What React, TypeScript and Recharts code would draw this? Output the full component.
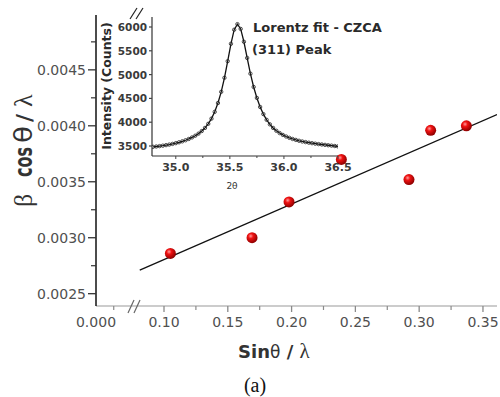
import React from "react";
import { ScatterChart, Scatter, XAxis, YAxis } from "recharts";

// Williamson-Hall points: sin(theta)/lambda vs beta cos(theta)/lambda
const sinThetaOverLambda = [0.105, 0.169, 0.198, 0.239, 0.292, 0.309, 0.337];
const betaCosOverLambda = [0.00286, 0.003, 0.00332, 0.0037, 0.00352, 0.00396, 0.004];

// linear fit end points
const fitX = [0.081, 0.361];
const fitY = [0.00271, 0.0041];

const xMajorTicks = [0.0467, 0.1, 0.15, 0.2, 0.25, 0.3, 0.35];
const xTickLabels = ["0.000", "0.10", "0.15", "0.20", "0.25", "0.30", "0.35"];
const xMinorTicks = [0.0606, 0.125, 0.175, 0.225, 0.275, 0.325];
const yMajorTicks = [0.0025, 0.003, 0.0035, 0.004, 0.0045];
const yTickLabels = ["0.0025", "0.0030", "0.0035", "0.0040", "0.0045"];
const yMinorTicks = [0.00275, 0.00325, 0.00375, 0.00425, 0.00475];

// (311) peak profile
const twoTheta = [
  34.79, 34.82, 34.85, 34.88, 34.91, 34.94, 34.97, 35.0, 35.03, 35.06,
  35.09, 35.12, 35.15, 35.18, 35.21, 35.24, 35.27, 35.3, 35.33, 35.36,
  35.39, 35.42, 35.45, 35.48, 35.51, 35.54, 35.57, 35.6, 35.63, 35.66,
  35.69, 35.72, 35.75, 35.78, 35.81, 35.84, 35.87, 35.9, 35.93, 35.96,
  35.99, 36.02, 36.05, 36.08, 36.11, 36.14, 36.17, 36.2, 36.23, 36.26,
  36.29, 36.32, 36.35, 36.38, 36.41, 36.44, 36.47, 36.5,
];
const counts = [
  3483, 3490, 3498, 3507, 3518, 3530, 3544, 3560, 3578, 3598,
  3621, 3648, 3680, 3716, 3760, 3814, 3880, 3966, 4075, 4218,
  4403, 4638, 4933, 5282, 5647, 5943, 6060, 5960, 5690, 5350,
  5020, 4740, 4510, 4320, 4170, 4050, 3955, 3880, 3820, 3772,
  3733, 3700, 3672, 3648, 3628, 3610, 3595, 3582, 3570, 3559,
  3549, 3540, 3532, 3524, 3516, 3508, 3500, 3492,
];
const insetXTicks = [35.0, 35.5, 36.0, 36.5];
const insetXLabels = ["35.0", "35.5", "36.0", "36.5"];
const insetXMinor = [35.25, 35.75, 36.25];
const insetYTicks = [3500, 4000, 4500, 5000, 5500, 6000];

const points = sinThetaOverLambda.map((x, i) => ({ x, y: betaCosOverLambda[i] }));
const fitLine = fitX.map((x, i) => ({ x, y: fitY[i] }));
const profile = twoTheta.map((x, i) => ({ x, y: counts[i] }));

const SANS = "'DejaVu Sans', Verdana, sans-serif";
const SERIF = "'Liberation Serif', 'Times New Roman', serif";

const XTick = (props: any) => {
  const { x, y, payload } = props;
  const i = xMajorTicks.indexOf(payload.value);
  if (i < 0) {
    return <line x1={x} y1={y} x2={x} y2={y + 4} stroke="#8a8a8a" strokeWidth={1.2} />;
  }
  return (
    <g>
      {i > 0 && <line x1={x} y1={y} x2={x} y2={y + 6} stroke="#8a8a8a" strokeWidth={1.3} />}
      <text x={x} y={y + 21} textAnchor="middle" fontSize={14} fill="#505050" fontFamily={SANS}>
        {xTickLabels[i]}
      </text>
    </g>
  );
};

const YTick = (props: any) => {
  const { x, y, payload } = props;
  const i = yMajorTicks.indexOf(payload.value);
  if (i < 0) {
    return <line x1={x - 5} y1={y} x2={x} y2={y} stroke="#333" strokeWidth={1.2} />;
  }
  return (
    <g>
      <line x1={x - 8} y1={y} x2={x} y2={y} stroke="#333" strokeWidth={1.3} />
      <text x={x - 10} y={y + 5} textAnchor="end" fontSize={14} fill="#505050" fontFamily={SANS}>
        {yTickLabels[i]}
      </text>
    </g>
  );
};

const InsetXTick = (props: any) => {
  const { x, y, payload } = props;
  const i = insetXTicks.indexOf(payload.value);
  if (i < 0) {
    return <line x1={x} y1={y} x2={x} y2={y + 2} stroke="#444" />;
  }
  return (
    <g>
      <line x1={x} y1={y} x2={x} y2={y + 3} stroke="#444" />
      <text x={x} y={y + 15} textAnchor="middle" fontSize={11} fontWeight="bold" fill="#3a3a3a" fontFamily={SANS}>
        {insetXLabels[i]}
      </text>
    </g>
  );
};

const InsetYTick = (props: any) => {
  const { x, y, payload } = props;
  return (
    <g>
      <line x1={x - 3} y1={y} x2={x} y2={y} stroke="#444" strokeWidth={1.2} />
      <text x={x - 5} y={y + 4} textAnchor="end" fontSize={10.5} fontWeight="bold" fill="#3a3a3a" fontFamily={SANS}>
        {payload.value}
      </text>
    </g>
  );
};

const Sphere = (props: any) => {
  const { cx, cy } = props;
  return <circle cx={cx} cy={cy} r={5.5} fill="url(#redSphere)" />;
};

const OpenDot = (props: any) => {
  const { cx, cy } = props;
  return <circle cx={cx} cy={cy} r={1.7} fill="none" stroke="#222" strokeWidth={0.8} />;
};

const NoDot = () => <g />;

const XTitle = () => (
  <g>
    <line x1={128} y1={313} x2={134} y2={300} stroke="#666" strokeWidth={1.2} />
    <line x1={134} y1={313} x2={140} y2={300} stroke="#666" strokeWidth={1.2} />
    <text x={238} y={358} fontSize={18} fill="#333" fontFamily={SANS}>
      <tspan fontWeight="bold">Sin</tspan>
      <tspan fontWeight="normal" fontSize={17}>θ</tspan>
      <tspan fontWeight="bold"> / </tspan>
      <tspan fontFamily={SERIF} fontSize={21}>λ</tspan>
    </text>
    <text x={255} y={392} textAnchor="middle" fontSize={20} fill="#111" fontFamily={SERIF}>
      (a)
    </text>
  </g>
);

const YTitle = () => (
  <g transform="translate(32,0) rotate(-90)" fill="#333">
    <text x={-207} y={0} fontSize={26} fontFamily={SERIF}>β</text>
    <text x={-177} y={0} fontSize={24} fontWeight="bold" fontFamily={SANS} textLength={30} lengthAdjust="spacingAndGlyphs">
      cos
    </text>
    <text x={-143} y={0} fontSize={24} fontFamily={SANS} textLength={17} lengthAdjust="spacingAndGlyphs">
      θ
    </text>
    <text x={-122} y={0} fontSize={22} fontWeight="bold" fontFamily={SANS}>/</text>
    <text x={-107} y={0} fontSize={26} fontFamily={SERIF}>λ</text>
  </g>
);

const InsetYTitle = () => (
  <g>
    <line x1={130} y1={19} x2={137} y2={8} stroke="#222" strokeWidth={1.2} />
    <line x1={136} y1={19} x2={143} y2={8} stroke="#222" strokeWidth={1.2} />
    <text
      transform="translate(111,86) rotate(-90)"
      textAnchor="middle"
      fontSize={12.5}
      fontWeight="bold"
      fill="#2a2a2a"
      fontFamily={SANS}
    >
      Intensity (Counts)
    </text>
    <text x={253} y={32} fontSize={13} fontWeight="bold" fill="#2a2a2a" fontFamily={SANS}>
      Lorentz fit - CZCA
    </text>
    <text x={252} y={54} fontSize={13} fontWeight="bold" fill="#2a2a2a" fontFamily={SANS}>
      (311) Peak
    </text>
  </g>
);

const InsetXTitle = () => (
  <text x={232} y={189} textAnchor="middle" fontSize={9} fill="#333" fontFamily={SANS}>
    2θ
  </text>
);

export default function App() {
  return (
    <div style={{ position: "absolute", left: 0, top: 0, width: 500, height: 397, background: "#fff" }}>
      <svg width={0} height={0} style={{ position: "absolute" }}>
        <defs>
          <radialGradient id="redSphere" cx="38%" cy="35%" r="65%">
            <stop offset="0%" stopColor="#ff9c9c" />
            <stop offset="35%" stopColor="#f01212" />
            <stop offset="100%" stopColor="#8e0000" />
          </radialGradient>
        </defs>
      </svg>

      <div style={{ position: "absolute", left: 0, top: 0 }}>
        <ScatterChart width={500} height={397} margin={{ top: 15, right: 3, bottom: 61, left: 30 }}>
          <XAxis
            dataKey="x"
            type="number"
            domain={[0.0467, 0.361]}
            allowDataOverflow
            ticks={[...xMajorTicks, ...xMinorTicks]}
            interval={0}
            height={30}
            tickSize={0}
            tickMargin={0}
            tickLine={false}
            axisLine={{ stroke: "#9a9a9a", strokeWidth: 1.2 }}
            tick={<XTick />}
            label={<XTitle />}
          />
          <XAxis
            xAxisId="top"
            orientation="top"
            type="number"
            domain={[0.0467, 0.361]}
            height={0}
            tick={false}
            tickLine={false}
            axisLine={{ stroke: "#cfcfcf", strokeWidth: 1.2 }}
          />
          <YAxis
            dataKey="y"
            type="number"
            domain={[0.00239, 0.00499]}
            allowDataOverflow
            ticks={[...yMajorTicks, ...yMinorTicks]}
            interval={0}
            width={66}
            tickSize={0}
            tickMargin={0}
            tickLine={false}
            axisLine={{ stroke: "#111", strokeWidth: 1.5 }}
            tick={<YTick />}
            label={<YTitle />}
          />
          <YAxis
            yAxisId="right"
            orientation="right"
            type="number"
            domain={[0.00239, 0.00499]}
            width={0}
            tick={false}
            tickLine={false}
            axisLine={{ stroke: "#111", strokeWidth: 1.6 }}
          />
          <Scatter
            data={fitLine}
            line={{ stroke: "#111", strokeWidth: 1.3 }}
            shape={<NoDot />}
            isAnimationActive={false}
          />
          <Scatter data={points} shape={<Sphere />} isAnimationActive={false} />
        </ScatterChart>
      </div>

      <div style={{ position: "absolute", left: 0, top: 0, pointerEvents: "none" }}>
        <ScatterChart width={500} height={200} margin={{ top: 17, right: 162, bottom: 24, left: 112 }}>
          <XAxis
            dataKey="x"
            type="number"
            domain={[34.78, 36.5]}
            allowDataOverflow
            ticks={[...insetXTicks, ...insetXMinor]}
            interval={0}
            height={20}
            tickSize={0}
            tickMargin={0}
            tickLine={false}
            axisLine={{ stroke: "#333", strokeWidth: 1.2 }}
            tick={<InsetXTick />}
            label={<InsetXTitle />}
          />
          <YAxis
            dataKey="y"
            type="number"
            domain={[3290, 6210]}
            allowDataOverflow
            ticks={insetYTicks}
            interval={0}
            width={40}
            tickSize={0}
            tickMargin={0}
            tickLine={false}
            axisLine={{ stroke: "#333", strokeWidth: 1.2 }}
            tick={<InsetYTick />}
            label={<InsetYTitle />}
          />
          <Scatter
            data={profile}
            line={{ stroke: "#111", strokeWidth: 1.3 }}
            shape={<OpenDot />}
            isAnimationActive={false}
          />
        </ScatterChart>
      </div>
    </div>
  );
}
